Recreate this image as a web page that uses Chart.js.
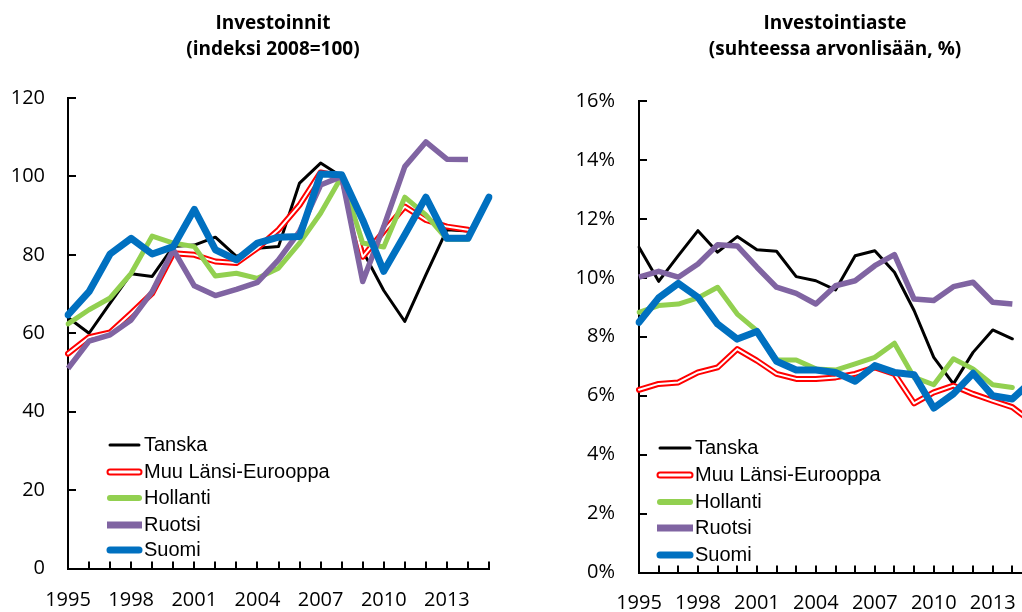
<!DOCTYPE html>
<html>
<head>
<meta charset="utf-8">
<script src="https://cdn.jsdelivr.net/npm/chart.js@4.4.1/dist/chart.umd.min.js"></script>
<style>
  html, body { margin: 0; padding: 0; background: #fff; overflow: hidden; }
  #wrap { position: relative; width: 1022px; height: 612px; overflow: hidden; }
  #left { position: absolute; left: 0; top: 0; }
  #right { position: absolute; left: 540px; top: 0; }
</style>
</head>
<body>
<div id="wrap">
  <div id="left"><canvas id="c1" width="510" height="612"></canvas></div>
  <div id="right"><canvas id="c2" width="520" height="612"></canvas></div>
</div>
<script>
const years = ['1995','1996','1997','1998','1999','2000','2001','2002','2003','2004',
  '2005','2006','2007','2008','2009','2010','2011','2012','2013','2014','2015'];

// Investoinnit, indeksi 2008=100
const invTanska = [64, 60, 67.7, 75.2, 74.5, 82.1, 82.5, 84.5, 79.6, 81.7, 82.1, 98.3, 103.4, 100, 81, 70.9, 63, 74.9, 86.4, 86.1, null];
const invMuu    = [54.8, 59, 60.2, 65.1, 70.2, 80.4, 80, 78.3, 77.9, 81.7, 86.4, 92.7, 101, 100, 79.5, 86, 92.3, 88.9, 87.2, 86.4, null];
const invHol    = [62.4, 66, 69, 75.3, 84.8, 83, 82.1, 74.6, 75.3, 74, 76.6, 83, 90.6, 100, 83, 82, 94.7, 90.2, 84, 84, null];
const invRuo    = [51, 58, 59.6, 63.4, 70.6, 81.3, 72.1, 69.6, 71.2, 73, 78.7, 86, 97.8, 100, 73.2, 87.2, 102.5, 108.8, 104.4, 104.3, null];
const invSuo    = [64.7, 70.6, 80.2, 84.2, 80.2, 82.1, 91.6, 81.3, 78.7, 83, 84.5, 84.7, 100.6, 100.4, 88.9, 75.8, 85.1, 94.7, 84.2, 84.2, 94.7];

// Investointiaste, % arvonlisästä
const asTanska = [11.04, 9.88, 10.75, 11.6, 10.87, 11.4, 10.95, 10.9, 10.04, 9.9, 9.59, 10.75, 10.92, 10.19, 8.89, 7.3, 6.4, 7.47, 8.23, 7.93, null];
const asMuu    = [6.2, 6.4, 6.45, 6.79, 6.96, 7.58, 7.19, 6.74, 6.57, 6.57, 6.62, 6.74, 6.96, 6.74, 5.74, 6.11, 6.34, 6.06, 5.83, 5.61, 5.1];
const asHol    = [8.83, 9.06, 9.11, 9.32, 9.68, 8.77, 8.21, 7.21, 7.21, 6.91, 6.87, 7.08, 7.3, 7.78, 6.62, 6.37, 7.25, 6.91, 6.37, 6.28, null];
const asRuo    = [10.02, 10.22, 10.02, 10.47, 11.12, 11.08, 10.36, 9.68, 9.47, 9.11, 9.73, 9.9, 10.41, 10.79, 9.28, 9.23, 9.7, 9.85, 9.17, 9.11, null];
const asSuo    = [8.49, 9.32, 9.81, 9.34, 8.43, 7.92, 8.18, 7.17, 6.87, 6.87, 6.79, 6.49, 7.02, 6.79, 6.71, 5.58, 6.06, 6.76, 6.0, 5.89, 6.5];

const tickFont = { family: '"Open Sans"', size: 20 };

const decor = {
  id: 'decor',
  beforeDatasetsDraw(chart) {
    const ctx = chart.ctx, a = chart.chartArea;
    const x = chart.scales.x, y = chart.scales.y;
    ctx.save();
    ctx.strokeStyle = '#000';
    ctx.lineWidth = 2;
    ctx.beginPath();
    y.ticks.forEach(t => {
      const py = Math.round(y.getPixelForValue(t.value));
      ctx.moveTo(a.left, py); ctx.lineTo(a.left + 8, py);
    });
    x.ticks.forEach((t, i) => {
      const px = Math.round(x.getPixelForTick(i));
      ctx.moveTo(px, a.bottom); ctx.lineTo(px, a.bottom - 7);
    });
    ctx.stroke();
    ctx.restore();
  },
  afterDraw(chart, args, opts) {
    const ctx = chart.ctx;
    ctx.save();
    ctx.fillStyle = '#000';
    ctx.textAlign = 'center';
    ctx.textBaseline = 'middle';
    ctx.font = 'bold 19px "Open Sans"';
    opts.title.forEach((s, i) => ctx.fillText(s, opts.titleX, 24 + i * 26));

    // legend inside plot
    const lg = opts.legend;
    ctx.textAlign = 'left';
    ctx.font = '20px "Liberation Sans"';
    const items = chart.data.datasets.filter(d => !d.helper);
    items.forEach((d, i) => {
      const yy = lg.ys[i];
      ctx.lineCap = d.borderCapStyle || 'round';
      if (d.outline) {
        ctx.strokeStyle = d.borderColor; ctx.lineWidth = 7;
        ctx.beginPath(); ctx.moveTo(lg.x0 + 3, yy); ctx.lineTo(lg.x1 - 3, yy); ctx.stroke();
        ctx.strokeStyle = '#fff'; ctx.lineWidth = 3;
        ctx.beginPath(); ctx.moveTo(lg.x0 + 3, yy); ctx.lineTo(lg.x1 - 3, yy); ctx.stroke();
      } else {
        ctx.strokeStyle = d.borderColor;
        ctx.lineWidth = d.legendWidth || d.borderWidth;
        const inset = ctx.lineCap === 'round' ? 3 : 0;
        ctx.beginPath(); ctx.moveTo(lg.x0 + inset, yy); ctx.lineTo(lg.x1 - inset, yy); ctx.stroke();
      }
      ctx.fillStyle = '#000';
      ctx.fillText(d.label, lg.tx, yy);
    });
    ctx.restore();
  }
};

function makeDatasets(t, m, h, r, s) {
  return [
    { label: 'Tanska', data: t, borderColor: '#000000', borderWidth: 3, order: 5 },
    { label: 'Muu Länsi-Eurooppa', data: m, borderColor: '#FF0000', borderWidth: 6, order: 4, outline: true },
    { label: '', data: m, borderColor: '#FFFFFF', borderWidth: 2, order: 3.5, helper: true },
    { label: 'Hollanti', data: h, borderColor: '#92D050', borderWidth: 5, legendWidth: 6, order: 3 },
    { label: 'Ruotsi', data: r, borderColor: '#8064A2', borderWidth: 5.5, legendWidth: 7, order: 2, borderCapStyle: 'butt' },
    { label: 'Suomi', data: s, borderColor: '#0070C0', borderWidth: 7, order: 1 }
  ];
}

function makeChart(canvas, cfg) {
  return new Chart(canvas, {
    type: 'line',
    data: { labels: years, datasets: makeDatasets(...cfg.series) },
    plugins: [decor],
    options: {
      responsive: false,
      animation: false,
      layout: { padding: cfg.padding },
      elements: {
        point: { radius: 0, hoverRadius: 0 },
        line: { tension: 0, borderJoinStyle: 'round', borderCapStyle: 'round', fill: false }
      },
      plugins: {
        legend: { display: false },
        tooltip: { enabled: false },
        decor: { title: cfg.title, titleX: cfg.titleX, legend: cfg.legend }
      },
      scales: {
        x: {
          type: 'category',
          offset: false,
          grid: { display: false, drawTicks: false },
          border: { display: true, color: '#000', width: 2 },
          afterFit: sc => { sc.height = cfg.xHeight; },
          ticks: {
            autoSkip: false, maxRotation: 0, padding: cfg.xPad, color: '#000', font: tickFont,
            callback: function (v, i) { return i % 3 === 0 ? this.getLabelForValue(v) : ''; }
          }
        },
        y: {
          min: cfg.yMin, max: cfg.yMax,
          grid: { display: false, drawTicks: false },
          border: { display: true, color: '#000', width: 2 },
          afterFit: sc => { sc.width = cfg.yWidth; },
          ticks: { stepSize: cfg.yStep, padding: cfg.yPad, color: '#000', font: tickFont, callback: cfg.yFmt }
        }
      }
    }
  });
}

makeChart(document.getElementById('c1'), {
  series: [invTanska, invMuu, invHol, invRuo, invSuo],
  padding: { top: 98, right: 21, left: 0, bottom: 0 },
  xHeight: 43.5, xPad: 20, yWidth: 68, yPad: 23,
  yMin: 0, yMax: 120, yStep: 20, yFmt: v => v,
  title: ['Investoinnit', '(indeksi 2008=100)'], titleX: 273,
  legend: { x0: 107, x1: 142, tx: 144, ys: [445, 472, 498, 525, 550] }
});

makeChart(document.getElementById('c2'), {
  series: [asTanska, asMuu, asHol, asRuo, asSuo],
  padding: { top: 101, right: 28, left: 0, bottom: 0 },
  xHeight: 39.5, xPad: 19, yWidth: 99, yPad: 24,
  yMin: 0, yMax: 16, yStep: 2, yFmt: v => v + '%',
  title: ['Investointiaste', '(suhteessa arvonlisään, %)'], titleX: 295,
  legend: { x0: 117, x1: 153, tx: 155, ys: [448, 475, 502, 528, 555] }
});
</script>
</body>
</html>
